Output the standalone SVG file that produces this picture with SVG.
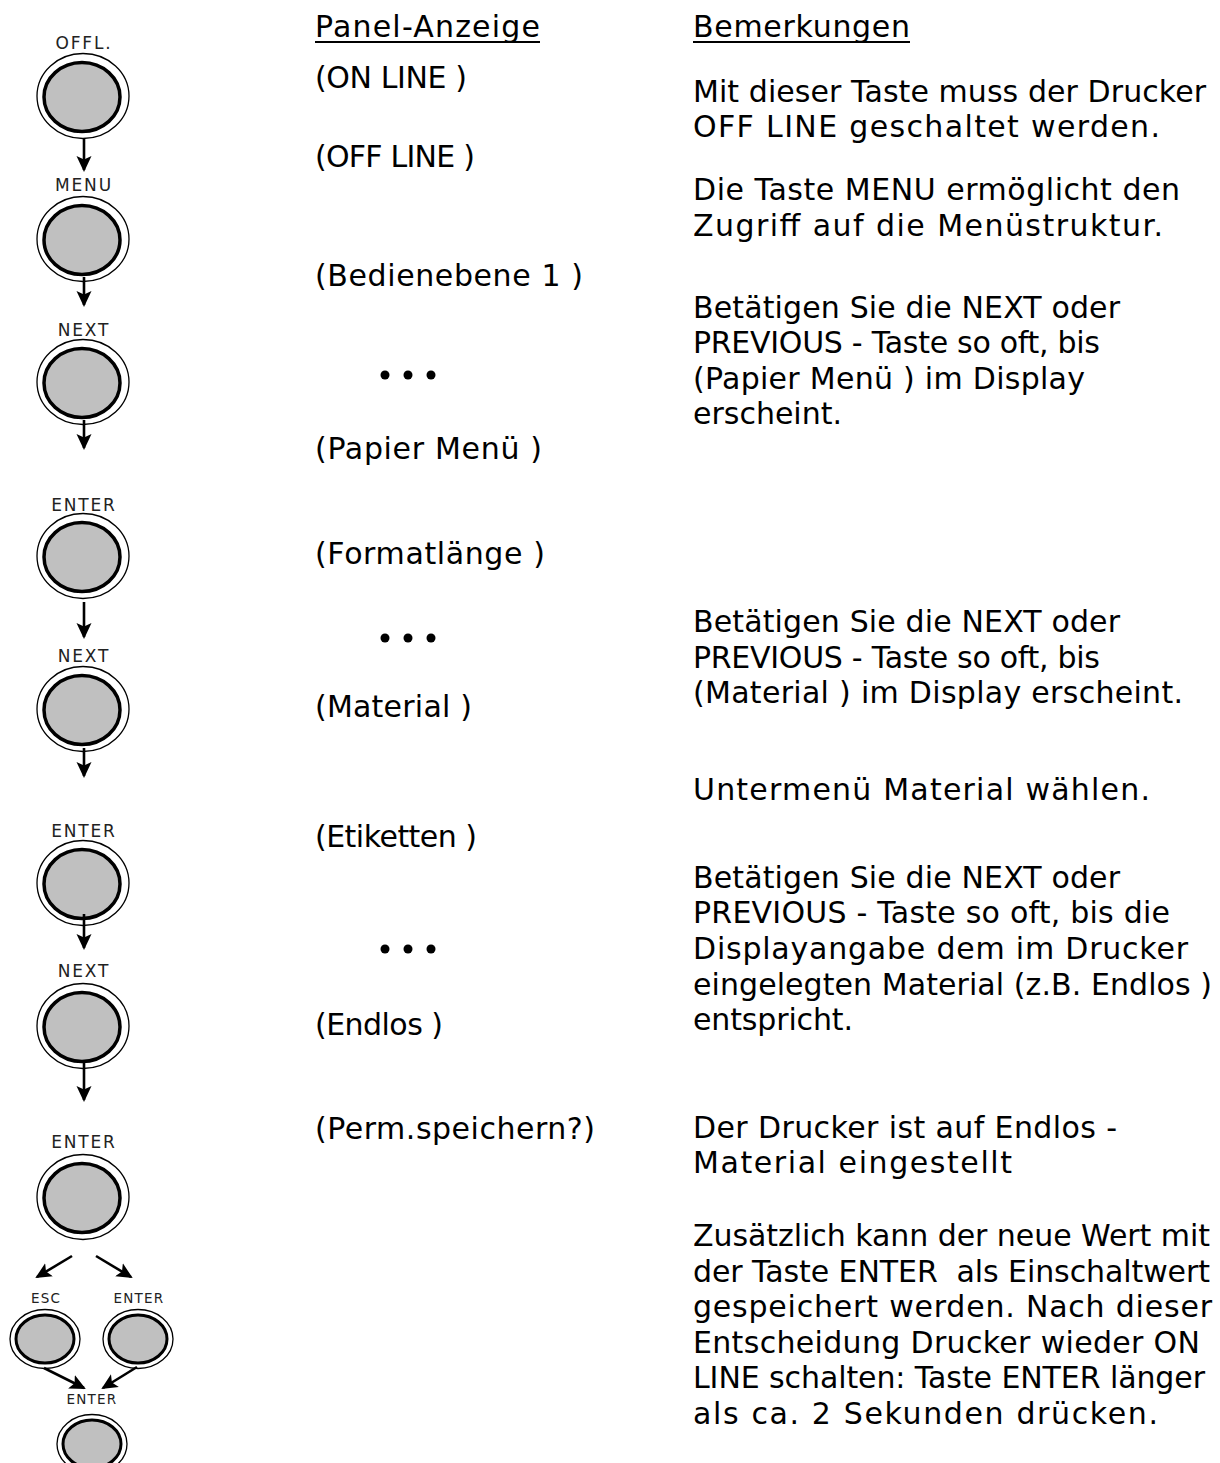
<svg xmlns="http://www.w3.org/2000/svg" width="1220" height="1463" viewBox="0 0 1220 1463">
<style>
.t{font-family:"DejaVu Sans","Liberation Sans",sans-serif;font-size:30px;fill:#000}
.lbl{font-family:"DejaVu Sans","Liberation Sans",sans-serif;font-size:17px;letter-spacing:1.8px;fill:#222;text-anchor:middle}
.lbs{font-family:"DejaVu Sans","Liberation Sans",sans-serif;font-size:13.5px;letter-spacing:1.2px;fill:#222;text-anchor:middle}
.ring{fill:#fff;stroke:#000;stroke-width:1.3}
.key{fill:#c0c0c0;stroke:#000;stroke-width:3.5}
.keys{fill:#c0c0c0;stroke:#000;stroke-width:3}
.arr{fill:none;stroke:#000;stroke-width:2.6;marker-end:url(#ah)}
.ul{stroke:#000;stroke-width:2}
</style>
<defs>
<marker id="ah" markerUnits="userSpaceOnUse" markerWidth="18" markerHeight="16" refX="14" refY="7.5" orient="auto" viewBox="0 0 18 15">
<path d="M0,0 L16,7.5 L0,15 L3.5,7.5 z" fill="#000"/>
</marker>
</defs>
<rect width="1220" height="1463" fill="#fff"/>

<g id="btn-offl">
<text class="lbl" x="84" y="49">OFFL.</text>
<ellipse class="ring" cx="83" cy="96" rx="46" ry="42.5"/>
<ellipse class="key" cx="82" cy="97" rx="38" ry="34.5"/>
</g>
<g id="btn-menu">
<text class="lbl" x="84" y="191">MENU</text>
<ellipse class="ring" cx="83" cy="239" rx="46" ry="42.5"/>
<ellipse class="key" cx="82" cy="240" rx="38" ry="34.5"/>
</g>
<g id="btn-next1">
<text class="lbl" x="84" y="336">NEXT</text>
<ellipse class="ring" cx="83" cy="382" rx="46" ry="42.5"/>
<ellipse class="key" cx="82" cy="383" rx="38" ry="34.5"/>
</g>
<g id="btn-enter1">
<text class="lbl" x="84" y="511">ENTER</text>
<ellipse class="ring" cx="83" cy="556" rx="46" ry="42.5"/>
<ellipse class="key" cx="82" cy="557" rx="38" ry="34.5"/>
</g>
<g id="btn-next2">
<text class="lbl" x="84" y="662">NEXT</text>
<ellipse class="ring" cx="83" cy="709" rx="46" ry="42.5"/>
<ellipse class="key" cx="82" cy="710" rx="38" ry="34.5"/>
</g>
<g id="btn-enter2">
<text class="lbl" x="84" y="837">ENTER</text>
<ellipse class="ring" cx="83" cy="883" rx="46" ry="42.5"/>
<ellipse class="key" cx="82" cy="884" rx="38" ry="34.5"/>
</g>
<g id="btn-next3">
<text class="lbl" x="84" y="977">NEXT</text>
<ellipse class="ring" cx="83" cy="1026" rx="46" ry="42.5"/>
<ellipse class="key" cx="82" cy="1027" rx="38" ry="34.5"/>
</g>
<g id="btn-enter3">
<text class="lbl" x="84" y="1148">ENTER</text>
<ellipse class="ring" cx="83" cy="1197" rx="46" ry="42.5"/>
<ellipse class="key" cx="82" cy="1198" rx="38" ry="34.5"/>
</g>
<g id="btn-esc">
<text class="lbs" x="46" y="1303">ESC</text>
<ellipse class="ring" cx="45" cy="1339" rx="35" ry="29.5"/>
<ellipse class="keys" cx="45" cy="1339" rx="29" ry="24"/>
</g>
<g id="btn-enter4">
<text class="lbs" x="139" y="1303">ENTER</text>
<ellipse class="ring" cx="138" cy="1339" rx="35" ry="29.5"/>
<ellipse class="keys" cx="138" cy="1339" rx="29" ry="24"/>
</g>
<g id="btn-enter5">
<text class="lbs" x="92" y="1404">ENTER</text>
<ellipse class="ring" cx="92" cy="1444" rx="35" ry="29.5"/>
<ellipse class="keys" cx="92" cy="1444" rx="29" ry="24"/>
</g>

<g id="connectors">
<line class="arr" x1="84" y1="138" x2="84" y2="170"/>
<line class="arr" x1="84" y1="277" x2="84" y2="305"/>
<line class="arr" x1="84" y1="420" x2="84" y2="448"/>
<line class="arr" x1="84" y1="602" x2="84" y2="637"/>
<line class="arr" x1="84" y1="748" x2="84" y2="776"/>
<line class="arr" x1="84" y1="914" x2="84" y2="948"/>
<line class="arr" x1="84" y1="1062" x2="84" y2="1100"/>
<line class="arr" x1="72" y1="1256" x2="37" y2="1277"/>
<line class="arr" x1="96" y1="1256" x2="131" y2="1277"/>
<line class="arr" x1="44" y1="1368" x2="84" y2="1388"/>
<line class="arr" x1="137" y1="1367" x2="103" y2="1388"/>
</g>

<g id="col-panel">
<text class="t" x="315" y="37" textLength="225">Panel-Anzeige</text>
<line class="ul" x1="315" y1="42" x2="540" y2="42"/>
<text class="t" x="315" y="88" textLength="152">(ON LINE )</text>
<text class="t" x="315" y="167" textLength="160">(OFF LINE )</text>
<text class="t" x="315" y="286" textLength="268">(Bedienebene 1 )</text>
<circle cx="385" cy="375" r="4.5"/><circle cx="408" cy="375" r="4.5"/><circle cx="431" cy="375" r="4.5"/>
<text class="t" x="315" y="459" textLength="227">(Papier Menü )</text>
<text class="t" x="315" y="564" textLength="230">(Formatlänge )</text>
<circle cx="385" cy="638" r="4.5"/><circle cx="408" cy="638" r="4.5"/><circle cx="431" cy="638" r="4.5"/>
<text class="t" x="315" y="717" textLength="157">(Material )</text>
<text class="t" x="315" y="847" textLength="162">(Etiketten )</text>
<circle cx="385" cy="949" r="4.5"/><circle cx="408" cy="949" r="4.5"/><circle cx="431" cy="949" r="4.5"/>
<text class="t" x="315" y="1035" textLength="128">(Endlos )</text>
<text class="t" x="315" y="1139" textLength="280">(Perm.speichern?)</text>
</g>

<g id="col-notes">
<text class="t" x="693" y="37" textLength="217">Bemerkungen</text>
<line class="ul" x1="693" y1="42" x2="910" y2="42"/>
<text class="t" x="693" y="102" textLength="513">Mit dieser Taste muss der Drucker</text>
<text class="t" x="693" y="137" textLength="467">OFF LINE geschaltet werden.</text>
<text class="t" x="693" y="200" textLength="487">Die Taste MENU ermöglicht den</text>
<text class="t" x="693" y="236" textLength="470">Zugriff auf die Menüstruktur.</text>
<text class="t" x="693" y="318" textLength="427">Betätigen Sie die NEXT oder</text>
<text class="t" x="693" y="353" textLength="407">PREVIOUS - Taste so oft, bis</text>
<text class="t" x="693" y="389" textLength="392">(Papier Menü ) im Display</text>
<text class="t" x="693" y="424" textLength="149">erscheint.</text>
<text class="t" x="693" y="632" textLength="427">Betätigen Sie die NEXT oder</text>
<text class="t" x="693" y="668" textLength="407">PREVIOUS - Taste so oft, bis</text>
<text class="t" x="693" y="703" textLength="490">(Material ) im Display erscheint.</text>
<text class="t" x="693" y="800" textLength="457">Untermenü Material wählen.</text>
<text class="t" x="693" y="888" textLength="427">Betätigen Sie die NEXT oder</text>
<text class="t" x="693" y="923" textLength="477">PREVIOUS - Taste so oft, bis die</text>
<text class="t" x="693" y="959" textLength="495">Displayangabe dem im Drucker</text>
<text class="t" x="693" y="995" textLength="519">eingelegten Material (z.B. Endlos )</text>
<text class="t" x="693" y="1030" textLength="160">entspricht.</text>
<text class="t" x="693" y="1138" textLength="424">Der Drucker ist auf Endlos -</text>
<text class="t" x="693" y="1173" textLength="319">Material eingestellt</text>
<text class="t" x="693" y="1246" textLength="517">Zusätzlich kann der neue Wert mit</text>
<text class="t" x="693" y="1282" textLength="517" xml:space="preserve">der Taste ENTER  als Einschaltwert</text>
<text class="t" x="693" y="1317" textLength="519">gespeichert werden. Nach dieser</text>
<text class="t" x="693" y="1353" textLength="507">Entscheidung Drucker wieder ON</text>
<text class="t" x="693" y="1388" textLength="512">LINE schalten: Taste ENTER länger</text>
<text class="t" x="693" y="1424" textLength="465">als ca. 2 Sekunden drücken.</text>
</g>
</svg>
